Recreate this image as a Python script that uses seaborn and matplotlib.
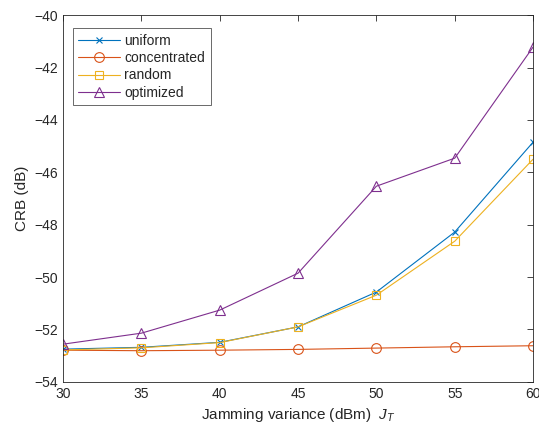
import matplotlib
matplotlib.use("Agg")
import matplotlib.pyplot as plt
import seaborn as sns
import pandas as pd

x = [30, 35, 40, 45, 50, 55, 60]
uniform = [-52.75, -52.68, -52.49, -51.90, -50.57, -48.28, -44.85]
concentrated = [-52.79, -52.81, -52.79, -52.76, -52.71, -52.66, -52.62]
random_ = [-52.78, -52.70, -52.50, -51.90, -50.69, -48.63, -45.50]
optimized = [-52.56, -52.14, -51.26, -49.85, -46.53, -45.46, -41.22]

names = ["uniform", "concentrated", "random", "optimized"]
series = [uniform, concentrated, random_, optimized]
colors = ["#0072BD", "#D95319", "#EDB120", "#7E2F8E"]
markers = ["x", "o", "s", "^"]
msizes = [5, 7, 5.5, 7.5]

sns.set_style("white")
plt.rcParams['font.family'] = ['Liberation Sans', 'DejaVu Sans']
plt.rcParams['mathtext.fontset'] = 'custom'
plt.rcParams['mathtext.it'] = 'Liberation Sans:italic'

fig = plt.figure(figsize=(5.39, 4.32), dpi=100)
ax = fig.add_axes([0.117, 0.116, 0.872, 0.849])

for n, s, c, m, ms in zip(names, series, colors, markers, msizes):
    df = pd.DataFrame({"x": x, "y": s})
    sns.lineplot(data=df, x="x", y="y", ax=ax, color=c, marker=m, markersize=ms,
                 markerfacecolor="none", markeredgecolor=c, markeredgewidth=0.8,
                 linewidth=0.8, label=n)

ax.set_xlim(30, 60)
ax.set_ylim(-54, -40)
ax.set_xticks(range(30, 61, 5))
ax.set_yticks(range(-54, -39, 2))
ax.tick_params(direction="in", top=True, right=True, labelsize=10, length=4, width=0.6, colors="#262626")
for sp in ax.spines.values():
    sp.set_visible(True)
    sp.set_color("#262626")
    sp.set_linewidth(0.6)
ax.set_xlabel("Jamming variance (dBm)  $J_T$", fontsize=11, color="#262626")
ax.set_ylabel("CRB (dB)", fontsize=11, color="#262626")
leg = ax.legend(loc="upper left", bbox_to_anchor=(0.021, 0.965), borderaxespad=0,
                fontsize=10, frameon=True,
                fancybox=False, edgecolor="#262626", handlelength=3.0, borderpad=0.4,
                labelspacing=0.25, handletextpad=0.3)
leg.get_frame().set_linewidth(0.6)

fig.savefig("out.png", dpi=100)
